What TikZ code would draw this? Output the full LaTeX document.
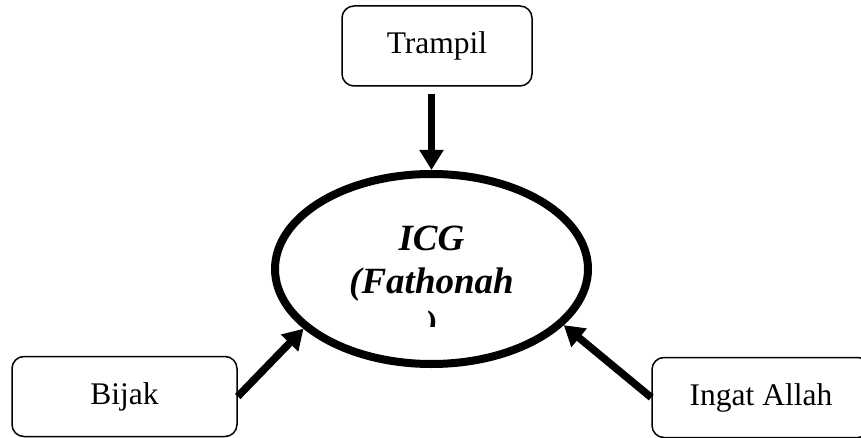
\documentclass[tikz,border=0pt]{standalone}
\usepackage{fontspec}
\setmainfont{Liberation Serif}
\usetikzlibrary{shapes.geometric}
\usetikzlibrary{arrows.meta}

\begin{document}
\begin{tikzpicture}[x=1pt,y=-1pt,
    box/.style={draw,line width=1.5pt,rounded corners=12pt,minimum height=80pt,
        inner sep=0pt,font=\fontsize{31.5}{36}\selectfont},
    push/.style={line width=7.5pt,-{Triangle[width=23pt,length=20pt]}}]
    \useasboundingbox (0,0) rectangle (861,438);
    % the three boxes
    \node[box,minimum width=190pt] (trampil) at (437,46) {Trampil};
    \node[box,minimum width=225pt] (bijak) at (124.5,396.5) {Bijak};
    \node[box,minimum width=218pt] (ingat) at (761,397.5) {Ingat Allah};
    % centre
    \node[draw,ellipse,line width=8pt,minimum width=313pt,minimum height=190pt,
        inner sep=0pt] (icg) at (431.5,269) {};
    \begin{scope}
        \clip (0,0) rectangle (861,326);
        \node[anchor=base,align=center,inner sep=0pt,
            font=\fontsize{37}{43}\selectfont\bfseries\itshape] (icglabel)
            at (431.5,336) {ICG\\(Fathonah\\)};
    \end{scope}
    \draw[push,shorten <=7pt] (trampil.south -| icg.north) -- (icg.north);
    \draw[push] (bijak.east) -- (icg.205);
    \draw[push] (ingat.west) -- (icg.337);
\end{tikzpicture}
\end{document}
